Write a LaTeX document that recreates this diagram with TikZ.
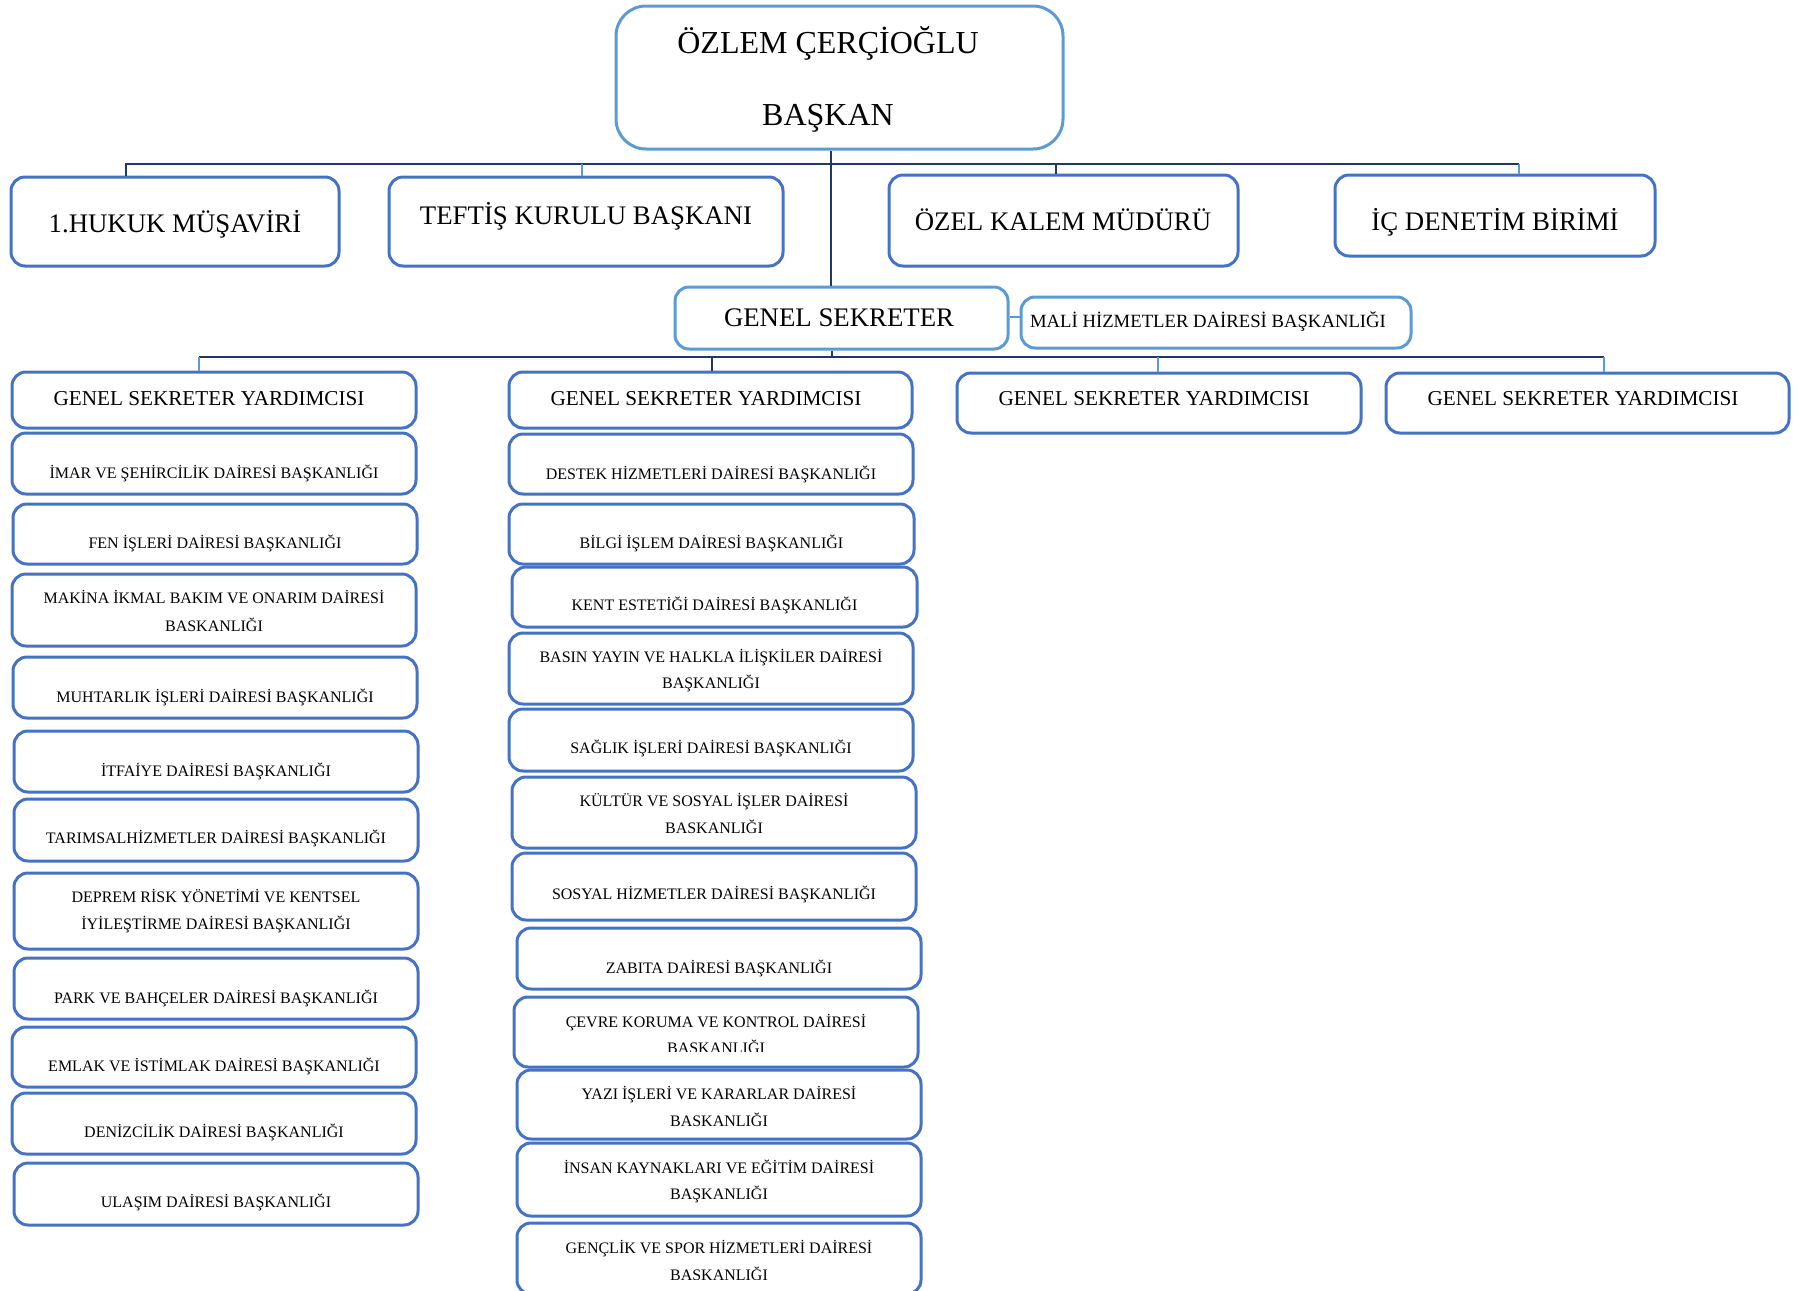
\documentclass[tikz,border=0pt]{standalone}
\usepackage{fontspec}
\setmainfont{Liberation Serif}
\usetikzlibrary{fit}
\definecolor{lblue}{HTML}{5B9BD5}
\definecolor{mblue}{HTML}{4472C4}
\definecolor{navy}{HTML}{1F3864}
\tikzset{
  box/.style={draw=mblue, line width=1.5pt, rounded corners=7pt, inner sep=0pt},
  lbox/.style={box, draw=lblue},
  bigbox/.style={lbox, rounded corners=15pt},
  bus/.style={draw=navy, line width=1pt},
  lbus/.style={draw=lblue, line width=0.8pt},
  txt/.style={inner sep=0pt, anchor=base},
  dt/.style={txt, font=\fontsize{8}{9}\selectfont},
  rt/.style={txt, font=\fontsize{13.4}{15}\selectfont},
  gt/.style={txt, font=\fontsize{10.6}{12}\selectfont},
}
\newcommand\DOne[7]{%
  \node[box, fit={(#2,#3) (#4,#5)}] (#1) {};
  \node[dt] (#1t) at (#1.center |- 0,#6) {#7};}
\newcommand\DTwo[9]{%
  \node[box, fit={(#2,#3) (#4,#5)}] (#1) {};
  \node[dt] (#1t) at (#1.center |- 0,#6) {#8};
  \node[dt] (#1u) at (#1.center |- 0,#7) {#9};}
\begin{document}
\begin{tikzpicture}[x=0.5pt,y=-0.5pt]
\useasboundingbox (0,0) rectangle (1800,1291);
% top
\node[bigbox, fit={(616,6) (1063,149)}] (top) {};
\node[txt, font=\fontsize{16}{18}\selectfont] (topa) at (828,53.5) {ÖZLEM ÇERÇİOĞLU};
\node[txt, font=\fontsize{16}{18}\selectfont] (topb) at (828,125) {BAŞKAN};
% row 1
\node[box, fit={(11,177) (339,266)}] (huk) {};
\node[rt] (hukt) at (175,232) {1.HUKUK MÜŞAVİRİ};
\node[box, fit={(389,177) (783,266)}] (tef) {};
\node[rt] (teft) at (586,224) {TEFTİŞ KURULU BAŞKANI};
\node[box, fit={(889,175) (1238,266)}] (oz) {};
\node[rt] (ozt) at (1063,230) {ÖZEL KALEM MÜDÜRÜ};
\node[box, fit={(1335,175) (1655,256)}] (ic) {};
\node[rt] (ict) at (1495,230) {İÇ DENETİM BİRİMİ};
% genel sekreter
\node[lbox, fit={(675,287) (1008,349)}] (gs) {};
\node[rt] (gst) at (839,326) {GENEL SEKRETER};
\node[lbox, fit={(1021,297) (1411,348)}] (mali) {};
\node[txt, font=\fontsize{9.35}{11}\selectfont] (malit) at (1208,327) {MALİ HİZMETLER DAİRESİ BAŞKANLIĞI};
% GSY row
\node[box, fit={(12,372) (416,428)}] (gsy1) {};
\node[gt] (gsy1t) at (209,405.5) {GENEL SEKRETER YARDIMCISI};
\node[box, fit={(509,372) (912,428)}] (gsy2) {};
\node[gt] (gsy2t) at (706,405.5) {GENEL SEKRETER YARDIMCISI};
\node[box, fit={(957,373) (1361,433)}] (gsy3) {};
\node[gt] (gsy3t) at (1154,405.5) {GENEL SEKRETER YARDIMCISI};
\node[box, fit={(1386,373) (1789,433)}] (gsy4) {};
\node[gt] (gsy4t) at (1583,405.5) {GENEL SEKRETER YARDIMCISI};
% connectors
\coordinate (j1) at (831,164);
\coordinate (b1l) at (126,164);
\coordinate (b1r) at (1519,164);
\coordinate (b1t) at (582,164);
\coordinate (b1o) at (1056,164);
\draw[bus] (top.south -| j1) -- (gs.north -| j1);
\draw[bus] (huk.north -| b1l) -- (b1l) -- (b1r);
\draw[lbus] (b1r) -- (ic.north -| b1r);
\draw[lbus] (b1t) -- (tef.north -| b1t);
\draw[bus] (b1o) -- (oz.north -| b1o);
\coordinate (j2) at (832,357);
\coordinate (b2l) at (199,357);
\coordinate (b2r) at (1604,357);
\coordinate (b2b) at (712,357);
\coordinate (b2c) at (1158,357);
\draw[bus] (gs.south -| j2) -- (j2);
\draw[bus] (b2l) -- (b2r);
\draw[lbus] (b2l) -- (gsy1.north -| b2l);
\draw[bus] (b2b) -- (gsy2.north -| b2b);
\draw[lbus] (b2c) -- (gsy3.north -| b2c);
\draw[lbus] (b2r) -- (gsy4.north -| b2r);
\draw[lbus, line width=1.2pt] (gs.east |- 0,317) -- (mali.west |- 0,317);
% left column
\DOne{d1}{12}{433}{416}{494}{478}{İMAR VE ŞEHİRCİLİK DAİRESİ BAŞKANLIĞI}
\DOne{d2}{13}{504}{417}{564}{548}{FEN İŞLERİ DAİRESİ BAŞKANLIĞI}
\DTwo{d3}{12}{574}{416}{646}{603}{631}{MAKİNA İKMAL BAKIM VE ONARIM DAİRESİ}{BASKANLIĞI}
\DOne{d4}{13}{657}{417}{718}{702}{MUHTARLIK İŞLERİ DAİRESİ BAŞKANLIĞI}
\DOne{d5}{14}{731}{418}{792}{776}{İTFAİYE DAİRESİ BAŞKANLIĞI}
\DOne{d6}{14}{799}{418}{861}{843}{TARIMSALHİZMETLER DAİRESİ BAŞKANLIĞI}
\DTwo{d7}{14}{873}{418}{949}{902}{929}{DEPREM RİSK YÖNETİMİ VE KENTSEL}{İYİLEŞTİRME DAİRESİ BAŞKANLIĞI}
\DOne{d8}{14}{958}{418}{1019}{1003}{PARK VE BAHÇELER DAİRESİ BAŞKANLIĞI}
\DOne{d9}{12}{1027}{416}{1087}{1071}{EMLAK VE İSTİMLAK DAİRESİ BAŞKANLIĞI}
\DOne{d10}{12}{1093}{416}{1154}{1137}{DENİZCİLİK DAİRESİ BAŞKANLIĞI}
\DOne{d11}{14}{1163}{418}{1225}{1207}{ULAŞIM DAİRESİ BAŞKANLIĞI}
% middle column
\DOne{m1}{509}{434}{913}{494}{479}{DESTEK HİZMETLERİ DAİRESİ BAŞKANLIĞI}
\DOne{m2}{509}{504}{914}{564}{548}{BİLGİ İŞLEM DAİRESİ BAŞKANLIĞI}
\DOne{m3}{512}{567}{917}{627}{610}{KENT ESTETİĞİ DAİRESİ BAŞKANLIĞI}
\DTwo{m4}{509}{633}{913}{704}{662}{688}{BASIN YAYIN VE HALKLA İLİŞKİLER DAİRESİ}{BAŞKANLIĞI}
\DOne{m5}{509}{709}{913}{771}{753}{SAĞLIK İŞLERİ DAİRESİ BAŞKANLIĞI}
\DTwo{m6}{512}{777}{916}{848}{806}{833}{KÜLTÜR VE SOSYAL İŞLER DAİRESİ}{BASKANLIĞI}
\DOne{m7}{512}{853}{916}{920}{899}{SOSYAL HİZMETLER DAİRESİ BAŞKANLIĞI}
\DOne{m8}{517}{928}{921}{989}{973}{ZABITA DAİRESİ BAŞKANLIĞI}
\node[box, fit={(514,997) (918,1067)}] (m9) {};
\node[dt] (m9t) at (m9.center |- 0,1027) {ÇEVRE KORUMA VE KONTROL DAİRESİ};
\begin{scope}
  \clip (514,997) rectangle (918,1051);
  \node[dt] (m9u) at (m9.center |- 0,1053) {BAŞKANLIĞI};
\end{scope}
\DTwo{m10}{517}{1070}{921}{1139}{1099}{1126}{YAZI İŞLERİ VE KARARLAR DAİRESİ}{BASKANLIĞI}
\DTwo{m11}{517}{1143}{921}{1216}{1173}{1199}{İNSAN KAYNAKLARI VE EĞİTİM DAİRESİ}{BAŞKANLIĞI}
\node[box, fit={(517,1223) (921,1294)}] (m12) {};
\node[dt] (m12t) at (m12.center |- 0,1253) {GENÇLİK VE SPOR HİZMETLERİ DAİRESİ};
\begin{scope}
  \clip (517,1223) rectangle (921,1279);
  \node[dt] (m12u) at (m12.center |- 0,1280) {BAŞKANLIĞI};
\end{scope}
\end{tikzpicture}
\end{document}
